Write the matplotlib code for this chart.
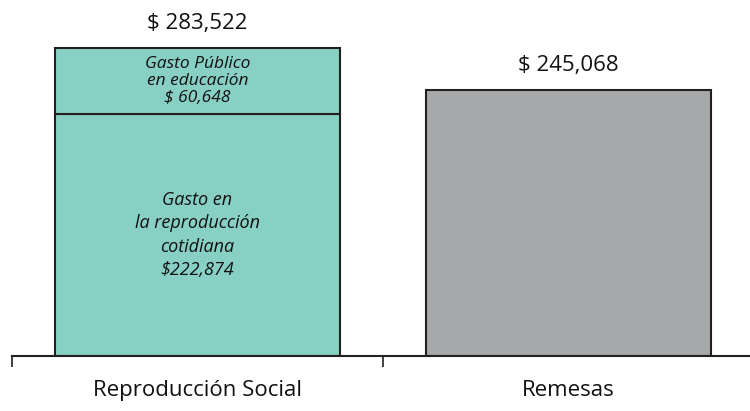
import matplotlib.pyplot as plt
from matplotlib.ticker import FixedLocator

plt.rcParams['font.family'] = ['Open Sans', 'DejaVu Sans']

categories = ['Reproducción Social', 'Remesas']
cotidiana = [222874, 0]
educacion = [60648, 0]
remesas = [0, 245068]
totals = ['$ 283,522', '$ 245,068']
seg_labels_bottom = 'Gasto en\nla reproducción\ncotidiana\n$222,874'
seg_labels_top = 'Gasto Público\nen educación\n$ 60,648'

teal = '#88D0C3'
gray = '#A7A8AA'
edge = '#231F20'

fig = plt.figure(figsize=(7.5, 4.11), dpi=100)
ax = fig.add_axes([12 / 750, 1 - 356 / 411, 1 - 12 / 750, 356 / 411])

w = 0.77
ax.bar([0], [cotidiana[0]], width=w, color=teal, edgecolor=edge, linewidth=1.5)
ax.bar([0], [educacion[0]], bottom=[cotidiana[0]], width=w, color=teal,
       edgecolor=edge, linewidth=1.5)
ax.bar([1], [remesas[1]], width=w, color=gray, edgecolor=edge, linewidth=1.5)

# segment labels
ax.text(0, cotidiana[0] / 2, seg_labels_bottom, ha='center', va='center',
        fontsize=13, style='italic', linespacing=1.4, color='#111')
ax.text(0, cotidiana[0] + educacion[0] / 2, seg_labels_top, ha='center',
        va='center', fontsize=12.5, style='italic', linespacing=1.05, color='#111')

# totals above bars
tops = [cotidiana[0] + educacion[0], remesas[1]]
for i, t in enumerate(tops):
    ax.annotate(totals[i], (i, t), xytext=(0, 10), textcoords='offset points',
                ha='center', va='bottom', fontsize=16, color='#111')

ax.set_xlim(-0.5, 1.489)
ax.set_ylim(0, 283522 * 356 / 308)

for s in ['top', 'right', 'left']:
    ax.spines[s].set_visible(False)
ax.spines['bottom'].set_linewidth(1.5)
ax.spines['bottom'].set_color(edge)
ax.set_yticks([])

ax.set_xticks([0, 1])
ax.set_xticklabels(categories, fontsize=16, color='#111')
ax.tick_params(axis='x', which='major', length=0, pad=17)
ax.xaxis.set_minor_locator(FixedLocator([-0.5, 0.5]))
ax.tick_params(axis='x', which='minor', length=8, width=1.2, color=edge)

fig.savefig('out.png', dpi=100)
